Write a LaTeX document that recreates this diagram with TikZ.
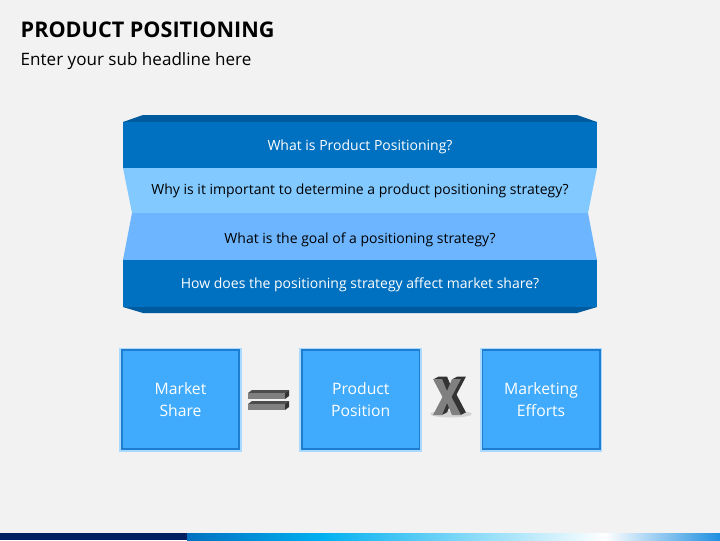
\documentclass[tikz,border=0pt]{standalone}
\usepackage{fontspec}
\setmainfont{Open Sans}
\usetikzlibrary{positioning}
\definecolor{bg}{HTML}{F2F2F2}
\definecolor{dkblue}{HTML}{0070C0}
\definecolor{bevel}{HTML}{005A9E}
\definecolor{ltblue}{HTML}{82C9FF}
\definecolor{mdblue}{HTML}{6DB5FF}
\definecolor{boxblue}{HTML}{40AAFC}
\definecolor{boxline}{HTML}{1F7DD0}
\definecolor{navy}{HTML}{002060}
\definecolor{cyan}{HTML}{00B0F0}
\definecolor{endblue}{HTML}{1E8FE0}
\begin{document}
\begin{tikzpicture}[x=0.75pt,y=-0.75pt,node distance=46pt,
	question/.style={font=\fontsize{10.5}{12}\selectfont},
	factor/.style={draw=boxline,line width=1.2pt,fill=boxblue,text=white,align=center,
		minimum width=88pt,minimum height=74pt,font=\fontsize{11.8}{16}\selectfont,
		preaction={draw=boxblue!45,line width=4pt}}]
	\fill[bg] (0,0) rectangle (720,540);
	\node[anchor=base west,font=\bfseries\fontsize{16.2}{18}\selectfont] (title) at (16,37) {PRODUCT POSITIONING};
	\node[anchor=base west,font=\fontsize{12.8}{15}\selectfont] (sub) at (16,65) {Enter your sub headline here};
	% folded bands
	\fill[bevel] (123,122) -- (143,115) -- (577,115) -- (597,122) -- cycle;
	\fill[dkblue] (123,122) rectangle (597,168);
	\fill[ltblue] (123,168) -- (597,168) -- (588,213) -- (132,213) -- cycle;
	\fill[mdblue] (132,213) -- (588,213) -- (597,260) -- (123,260) -- cycle;
	\fill[dkblue] (123,260) rectangle (597,307);
	\fill[bevel] (123,307) -- (597,307) -- (577,313) -- (143,313) -- cycle;
	\node[question,text=white] (q1) at (360,146.5) {What is Product Positioning?};
	\node[question] (q2) at (360,190.5) {Why is it important to determine a product positioning strategy?};
	\node[question] (q3) at (360,239.5) {What is the goal of a positioning strategy?};
	\node[question,text=white] (q4) at (360,284.5) {How does the positioning strategy affect market share?};
	% equation
	\node[factor] (share) at (180.5,399.5) {Market\\Share};
	\node[factor,right=of share] (pos) {Product\\Position};
	\node[factor,right=of pos] (eff) {Marketing\\Efforts};
	\foreach \y in {390,401}{
		\fill[black!70] (248,\y+3) -- (252,\y) -- (289,\y) -- (285,\y+3) -- cycle;
		\fill[black!80] (285,\y+3) -- (289,\y) -- (289,\y+6) -- (285,\y+9) -- cycle;
		\fill[black!50] (248,\y+3) rectangle (285,\y+9);
	}
	\fill[black,opacity=0.12] (451,414) ellipse (21 and 3.5);
	\foreach \d in {5,4,...,1}
		\fill[black!80,shift={(433+\d,379-0.5*\d)}] (0,0) -- (9,0) -- (14,12) -- (19,0) -- (28,0) -- (18.5,18) -- (28,36) -- (19,36) -- (14,24) -- (9,36) -- (0,36) -- (9.5,18) -- cycle;
	\fill[black!50,shift={(433,379)}] (0,0) -- (9,0) -- (14,12) -- (19,0) -- (28,0) -- (18.5,18) -- (28,36) -- (19,36) -- (14,24) -- (9,36) -- (0,36) -- (9.5,18) -- cycle;
	% footer bar
	\fill[navy] (0,533) rectangle (187,540);
	\shade[left color=dkblue,right color=cyan] (187,533) rectangle (321,540);
	\shade[left color=cyan,right color=white] (321,533) rectangle (605,540);
	\shade[left color=white,right color=endblue] (605,533) rectangle (720,540);
\end{tikzpicture}
\end{document}
